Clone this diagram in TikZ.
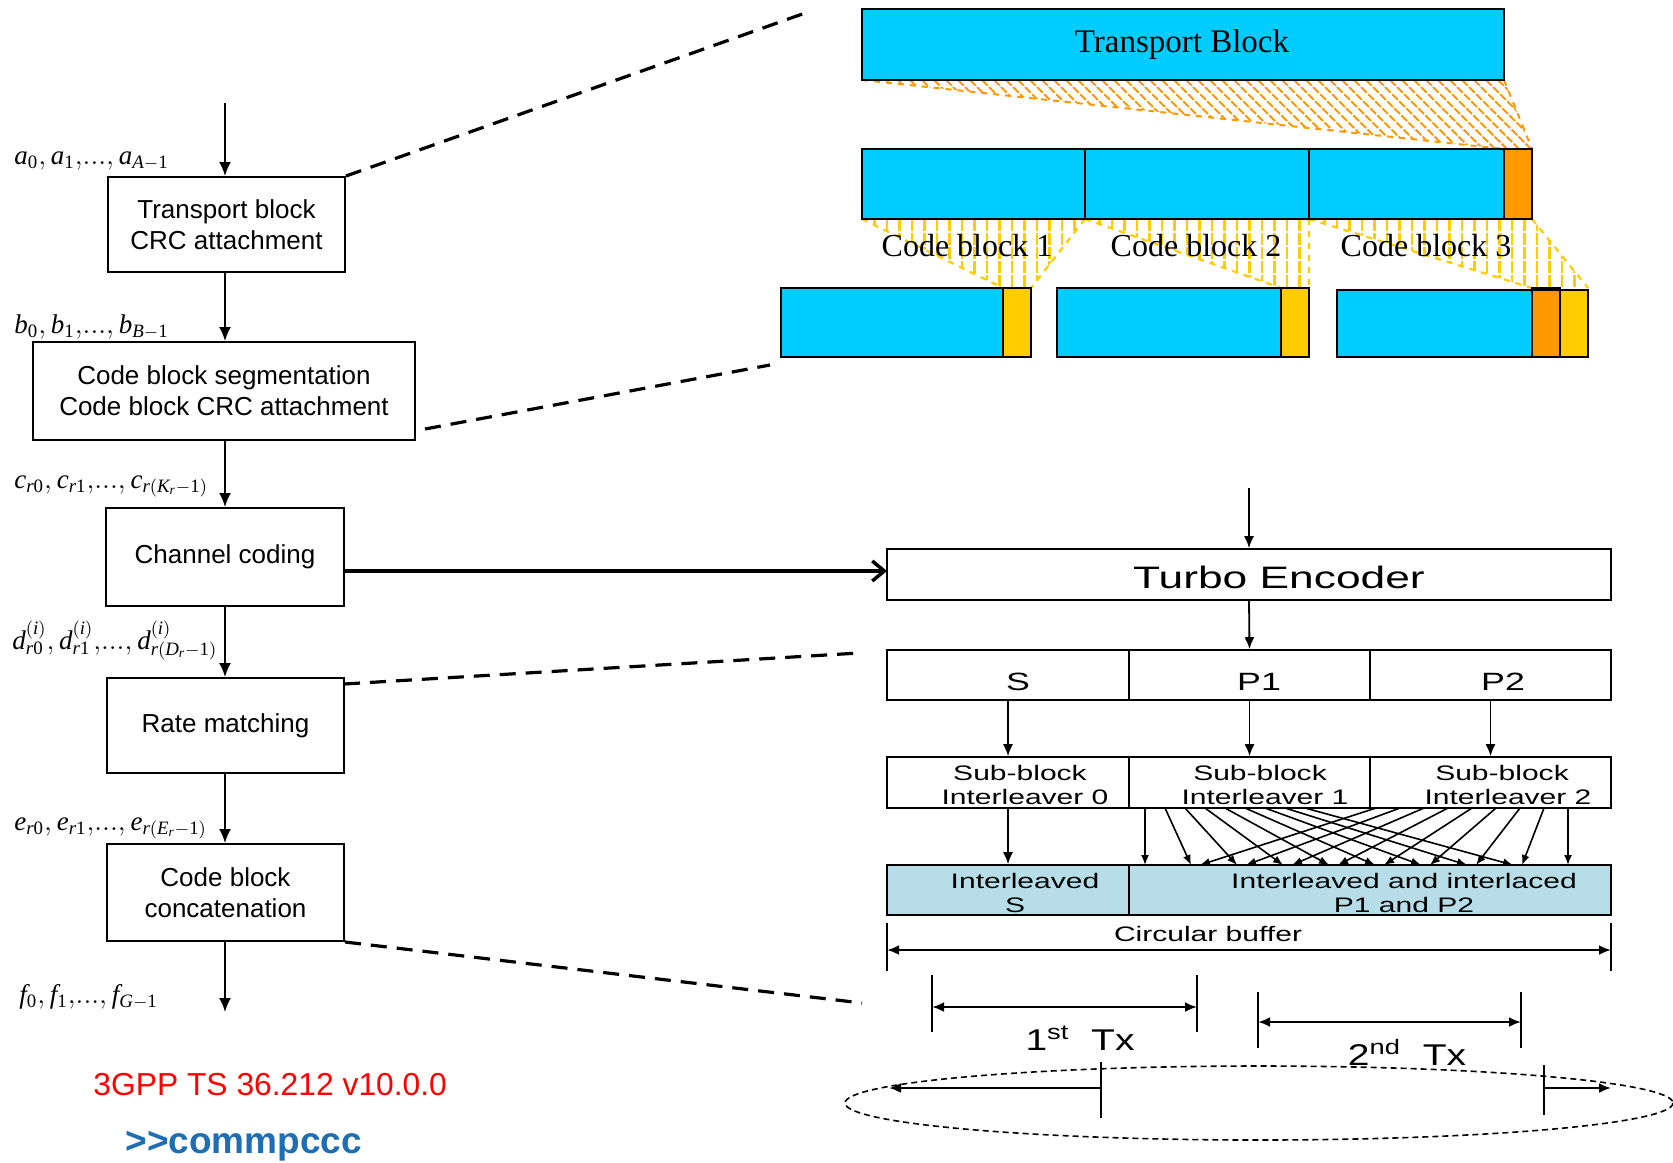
\documentclass[tikz,border=0pt]{standalone}
\usepackage{mathspec}
\setmainfont{Liberation Serif}
\setsansfont{Liberation Sans}
\setmathsfont(Digits,Latin){Liberation Serif}
\usepackage{graphicx}
\usetikzlibrary{arrows.meta}

\definecolor{tbcyan}{RGB}{0,204,255}
\definecolor{crcorange}{RGB}{255,153,0}
\definecolor{cbyellow}{RGB}{255,204,0}
\definecolor{ilvfill}{RGB}{183,222,232}
\definecolor{specred}{RGB}{255,0,0}
\definecolor{cmdblue}{RGB}{30,110,180}

% horizontally widened sans text used in the rate-matching sketch
\newcommand{\widetxt}[2][1.43]{\scalebox{#1}[1]{#2}}

\begin{document}
\begin{tikzpicture}[x=0.5pt,y=-0.5pt,
  procbox/.style={draw, line width=1pt, align=center, inner sep=0pt,
    font=\sffamily\fontsize{13}{15.5}\selectfont},
  flow/.style={-{Latex[length=7pt,width=6pt]}, line width=1pt},
  zoomline/.style={line width=1.6pt, dash pattern=on 8pt off 5pt},
  mlabel/.style={anchor=base west, inner sep=0pt, font=\fontsize{13.5}{16}\selectfont},
  blk/.style={line width=1.3pt},
  cell/.style={draw, line width=0.8pt, inner sep=0pt},
  sarr/.style={-{Latex[length=6pt,width=5pt]}, line width=0.9pt},
  xarr/.style={-{Latex[length=5pt,width=4pt]}, line width=0.8pt},
  dimarr/.style={{Latex[length=6pt,width=5pt]}-{Latex[length=6pt,width=5pt]}, line width=1.2pt},
  oneway/.style={-{Latex[length=6pt,width=5pt]}, line width=1.2pt},
  tick/.style={line width=0.6pt},
  rtxt/.style={anchor=base, inner sep=0pt, font=\sffamily\fontsize{10.5}{12}\selectfont},
  cbtxt/.style={anchor=base, inner sep=0pt, font=\fontsize{16}{18}\selectfont}
]
\fill[white] (0,0) rectangle (1673,1162);
\path[use as bounding box] (0,0) rectangle (1673,1162);

% ---------------- processing chain ----------------
\node[procbox, minimum width=118.5pt, minimum height=47.5pt] (tbcrc) at (226.5,224.5) {Transport block\\CRC attachment};
\node[procbox, minimum width=191pt, minimum height=49pt] (cbseg) at (224,391) {Code block segmentation\\Code block CRC attachment};
\node[procbox, minimum width=119pt, minimum height=49pt] (chcod) at (225,557) {Channel coding};
\node[procbox, minimum width=118.5pt, minimum height=47.5pt] (ratem) at (225.5,725.5) {Rate matching};
\node[procbox, minimum width=118.5pt, minimum height=48.5pt] (cbcat) at (225.5,892.5) {Code block\\concatenation};

\coordinate (chainIn) at (225,103);
\coordinate (chainOut) at (225,1012);
\draw[flow] (chainIn) -- (chainIn |- tbcrc.north);
\draw[flow] (chainIn |- tbcrc.south) -- (chainIn |- cbseg.north);
\draw[flow] (chainIn |- cbseg.south) -- (chainIn |- chcod.north);
\draw[flow] (chainIn |- chcod.south) -- (chainIn |- ratem.north);
\draw[flow] (chainIn |- ratem.south) -- (chainIn |- cbcat.north);
\draw[flow] (chainIn |- cbcat.south) -- (chainOut);

\node[mlabel] (la) at (14,164) {$a_0{,}\,a_1{,}{...}{,}\,a_{A-1}$};
\node[mlabel] (lb) at (14,333) {$b_0{,}\,b_1{,}{...}{,}\,b_{B-1}$};
\node[mlabel] (lc) at (14,488) {$c_{r0}{,}\,c_{r1}{,}{...}{,}\,c_{r(K_r-1)}$};
\node[mlabel] (ld) at (12,649) {$d^{(i)}_{r0}{,}\,d^{(i)}_{r1}{,}{...}{,}\,d^{(i)}_{r(D_r-1)}$};
\node[mlabel] (le) at (14,830) {$e_{r0}{,}\,e_{r1}{,}{...}{,}\,e_{r(E_r-1)}$};
\node[mlabel] (lf) at (19,1003) {$f_0{,}\,f_1{,}{...}{,}\,f_{G-1}$};

\node[anchor=base west, inner sep=0pt, text=specred, font=\sffamily\fontsize{15.9}{18}\selectfont] (spec) at (93,1095) {3GPP TS 36.212 v10.0.0};
\node[anchor=base west, inner sep=0pt, text=cmdblue, font=\sffamily\bfseries\fontsize{18.5}{22}\selectfont] (cmd) at (125,1153) {>\kern0pt>commpccc};

% ---------------- segmentation sketch ----------------
% orange diagonal hatching: transport block CRC
\begin{scope}
  \clip (862,80) -- (1504,80) -- (1532,149) -- (1504,149) -- cycle;
  \foreach \x in {790,802,...,1540}
    \draw[crcorange, line width=1pt, dash pattern=on 4pt off 1pt] (\x,80) -- ++(69,69);
\end{scope}
\draw[crcorange, line width=1pt, dashed] (862,80) -- (1504,149) (1504,80) -- (1532,149);

% yellow vertical hatching: code blocks
\begin{scope}
  \clip (862,219) -- (1085,219) -- (1031,288) -- (1003,288) -- cycle
        (1085,219) -- (1309,219) -- (1309,288) -- (1281,288) -- cycle
        (1309,219) -- (1532,219) -- (1588,288) -- (1532,288) -- cycle;
  \foreach \x in {862,874.5,...,1592}
    \draw[cbyellow, line width=1.2pt, dash pattern=on 6pt off 1pt] (\x,219) -- (\x,288);
\end{scope}
\draw[cbyellow, line width=1.1pt, dashed]
  (862,219) -- (1003,288) (1085,219) -- (1031,288)
  (1085,219) -- (1281,288) (1309,219) -- (1309,288)
  (1309,219) -- (1532,288) (1532,219) -- (1588,288);

% transport block
\draw[blk, fill=tbcyan] (862,9) rectangle (1504,80);
\node[anchor=base, inner sep=0pt, font=\fontsize{16.5}{19}\selectfont] (tblab) at (1182,52) {Transport Block};

% transport block with CRC, split into three parts
\fill[tbcyan] (862,149) rectangle (1504,219);
\fill[crcorange] (1504,149) rectangle (1532,219);
\draw[line width=0.8pt] (1085,149) -- (1085,219) (1309,149) -- (1309,219);
\draw[blk] (1504,149) -- (1504,219);
\draw[blk] (862,149) rectangle (1532,219);

% code blocks with their CRCs
\fill[tbcyan] (781,288) rectangle (1003,357);
\fill[cbyellow] (1003,288) rectangle (1031,357);
\draw[blk] (1003,288) -- (1003,357);
\draw[blk] (781,288) rectangle (1031,357);

\fill[tbcyan] (1057,288) rectangle (1281,357);
\fill[cbyellow] (1281,288) rectangle (1309,357);
\draw[blk] (1281,288) -- (1281,357);
\draw[blk] (1057,288) rectangle (1309,357);

\fill[tbcyan] (1337,290) rectangle (1532,357);
\fill[crcorange] (1532,288) rectangle (1560,357);
\fill[cbyellow] (1560,290) rectangle (1588,357);
\draw[blk] (1337,290) -- (1532,290) (1560,290) -- (1588,290);
\draw[blk] (1532,288) rectangle (1560,357);
\draw[blk] (1337,290) rectangle (1588,357);

\node[cbtxt] (cb1) at (967,256) {Code block 1};
\node[cbtxt] (cb2) at (1196,256) {Code block 2};
\node[cbtxt] (cb3) at (1426,256) {Code block 3};

% dashed zoom lines
\coordinate (zA) at (808,12);
\coordinate (zB0) at (425,429);
\coordinate (zB) at (770,365);
\coordinate (zC0) at (344,684);
\coordinate (zC) at (859,653);
\coordinate (zD) at (862,1003);
\draw[zoomline] (tbcrc.north east) -- (zA);
\draw[zoomline] (zB0) -- (zB);
\draw[zoomline] (zC0) -- (zC);
\draw[zoomline] (cbcat.south east) -- (zD);

% ---------------- rate matching sketch ----------------
\node[cell, minimum width=362pt, minimum height=25.5pt] (te) at (1249,574.5) {};
\node[anchor=base, inner sep=0pt, font=\sffamily\fontsize{15.5}{18}\selectfont] (telab) at (1279,588) {\widetxt{Turbo Encoder}};

\coordinate (teFeed) at (887,571);
\draw[-{Straight Barb[length=6pt,width=10pt]}, line width=1.75pt] (chcod.east |- teFeed) -- (teFeed);
\coordinate (teIn) at (1249,488);
\draw[sarr] (teIn) -- (te.north);

\node[cell, minimum width=121pt, minimum height=25pt] (cs) at (1008,675) {};
\node[cell, minimum width=120.5pt, minimum height=25pt] (cp1) at (1249.5,675) {};
\node[cell, minimum width=120.5pt, minimum height=25pt] (cp2) at (1490.5,675) {};
\node[anchor=base, inner sep=0pt, font=\sffamily\fontsize{12.5}{15}\selectfont] at (1018,690) {\widetxt{S}};
\node[anchor=base, inner sep=0pt, font=\sffamily\fontsize{12.5}{15}\selectfont] at (1259,690) {\widetxt{P1}};
\node[anchor=base, inner sep=0pt, font=\sffamily\fontsize{12.5}{15}\selectfont] at (1503,690) {\widetxt{P2}};
\draw[sarr] (te.south) -- (cp1.north);

\node[cell, minimum width=121pt, minimum height=25.5pt] (sb0) at (1008,782.5) {};
\node[cell, minimum width=120.5pt, minimum height=25.5pt] (sb1) at (1249.5,782.5) {};
\node[cell, minimum width=120.5pt, minimum height=25.5pt] (sb2) at (1490.5,782.5) {};
\node[rtxt] at (1020,780) {\widetxt{Sub-block}};
\node[rtxt] at (1025,804) {\widetxt{Interleaver 0}};
\node[rtxt] at (1260,780) {\widetxt{Sub-block}};
\node[rtxt] at (1265,804) {\widetxt{Interleaver 1}};
\node[rtxt] at (1502,780) {\widetxt{Sub-block}};
\node[rtxt] at (1508,804) {\widetxt{Interleaver 2}};
\draw[sarr] (cs.south) -- (sb0.north);
\draw[sarr] (cp1.south) -- (sb1.north);
\draw[sarr] (cp2.south) -- (sb2.north);

\node[cell, fill=ilvfill, minimum width=121pt, minimum height=25pt] (ils) at (1008,890) {};
\node[cell, fill=ilvfill, minimum width=241pt, minimum height=25pt] (ilp) at (1370,890) {};
\node[rtxt] at (1025,888) {\widetxt{Interleaved}};
\node[rtxt] at (1015,912) {\widetxt{S}};
\node[rtxt] at (1404,888) {\widetxt{Interleaved and interlaced}};
\node[rtxt] at (1404,912) {\widetxt{P1 and P2}};
\draw[sarr] (sb0.south) -- (ils.north);

% interlacing of the two parity streams
\foreach \k in {0,...,8} {
  \draw[xarr] (1145+20*\k,808) -- (1145+46*\k,865);
  \draw[xarr] (1568-24*\k,808) -- (1568-46*\k,865);
}

% circular buffer and transmissions
\node[rtxt] (cblab) at (1208,941) {\widetxt{Circular buffer}};
\coordinate (bufL) at (887,950);
\coordinate (bufR) at (1611,950);
\draw[tick] (887,923) -- (887,971) (1611,923) -- (1611,971);
\draw[dimarr] (bufL) -- (bufR);

\coordinate (tx1L) at (932,1007);
\coordinate (tx1R) at (1197,1007);
\draw[tick] (932,975) -- (932,1032) (1197,975) -- (1197,1032);
\draw[dimarr] (tx1L) -- (tx1R);
\node[anchor=base, inner sep=0pt, font=\sffamily\fontsize{15}{18}\selectfont] (tx1) at (1080,1050) {\widetxt[1.3]{1\textsuperscript{st}\hspace{0.55em}Tx}};

\coordinate (tx2L) at (1258,1022);
\coordinate (tx2R) at (1521,1022);
\draw[tick] (1258,992) -- (1258,1048) (1521,992) -- (1521,1048);
\draw[dimarr] (tx2L) -- (tx2R);
\node[anchor=base, inner sep=0pt, font=\sffamily\fontsize{15}{18}\selectfont] (tx2) at (1407,1065) {\widetxt[1.3]{2\textsuperscript{nd}\hspace{0.55em}Tx}};

\draw[line width=0.8pt, dash pattern=on 3pt off 2pt] (1259,1103) ellipse [x radius=414, y radius=37];
\coordinate (wrapL0) at (1101,1088);
\coordinate (wrapL) at (889,1088);
\coordinate (wrapR0) at (1544,1088);
\coordinate (wrapR) at (1611,1088);
\draw[tick] (1101,1062) -- (1101,1118) (1544,1065) -- (1544,1115);
\draw[oneway] (wrapL0) -- (wrapL);
\draw[oneway] (wrapR0) -- (wrapR);
\end{tikzpicture}
\end{document}
